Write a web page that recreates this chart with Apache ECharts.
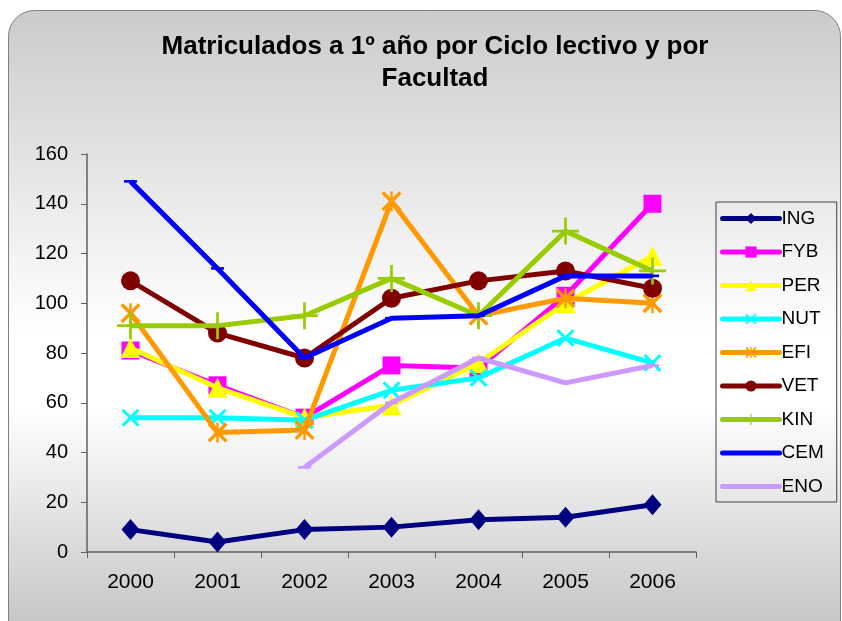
<!DOCTYPE html>
<html><head><meta charset="utf-8">
<script src="https://cdn.jsdelivr.net/npm/echarts@6/dist/echarts.min.js"></script>
<style>html,body{margin:0;padding:0;background:#fff;}#c{width:842px;height:621px;}</style>
</head><body><div id="c"></div>
<script>
const years = ['2000','2001','2002','2003','2004','2005','2006'];
const ING = [9, 4, 9, 10, 13, 14, 19];
const FYB = [81, 67, 54, 75, 74, 103, 140];
const PER = [82, 66, 54, 59, 76, 100, 119];
const NUT = [54, 54, 53, 65, 70, 86, 76];
const EFI = [96, 48, 49, 141, 95, 102, 100];
const VET = [109, 88, 78, 102, 109, 113, 106];
const KIN = [91, 91, 95, 110, 95, 129, 113];
const CEM = [149, 114, 78, 94, 95, 111, 111];
const ENO = [null, null, 34, 60, 78, 68, 75];
const yTicks = {min: 0, max: 160, interval: 20};

const P_X = 'path://M0,1.2 L1.2,0 L5,3.8 L8.8,0 L10,1.2 L6.2,5 L10,8.8 L8.8,10 L5,6.2 L1.2,10 L0,8.8 L3.8,5 Z';
const P_AST = 'path://M0,1.2 L1.2,0 L5,3.8 L8.8,0 L10,1.2 L6.2,5 L10,8.8 L8.8,10 L5,6.2 L1.2,10 L0,8.8 L3.8,5 Z M4.4,0 L5.6,0 L5.6,10 L4.4,10 Z';
const P_PLUS = 'path://M4.5,0 H5.5 V4.5 H10 V5.5 H5.5 V10 H4.5 V5.5 H0 V4.5 H4.5 Z';
const P_DASH = 'path://M0,0 H10 V2 H0 Z';
const FONT = 'Liberation Sans, Arial, sans-serif';

function s(name, data, color, symbol, size, z, keep) {
  return {name, type:'line', data, z: z,
    lineStyle:{color, width:5}, itemStyle:{color, borderWidth:0},
    symbol, symbolSize:size, symbolKeepAspect: !!keep, showSymbol:true, connectNulls:false,
    emphasis:{disabled:true}, animation:false};
}
const chart = echarts.init(document.getElementById('c'));
chart.setOption({
  animation:false,
  textStyle:{fontFamily:FONT},
  graphic:[{type:'rect', z:-10, silent:true,
    shape:{x:8.5, y:10.5, width:832, height:640, r:26},
    style:{stroke:'#808080', lineWidth:1,
      fill:{type:'linear', x:0, y:0, x2:0, y2:1, colorStops:[
        {offset:0, color:'#cbcbcb'}, {offset:0.5, color:'#ffffff'}, {offset:0.62, color:'#ffffff'}, {offset:0.97, color:'#c4c4c4'}, {offset:1, color:'#c0c0c0'}]}}}],
  title:{text:'Matriculados a 1º año por Ciclo lectivo y por\nFacultad', left:430, textAlign:'center', top:26,
    textStyle:{fontSize:26, fontWeight:'bold', color:'#000', lineHeight:32, fontFamily:FONT}},
  grid:{left:87, right:146, top:154, bottom:69, containLabel:false},
  legend:{orient:'vertical', left:716, top:202,
    padding:[7,13,6,4], itemGap:14.5, itemWidth:57, itemHeight:14,
    borderColor:'#404040', borderWidth:1, backgroundColor:'transparent',
    lineStyle:{width:5, cap:'round'},
    textStyle:{fontSize:19, color:'#000', padding:[0,0,0,-3]},
    data:['ING','FYB','PER','NUT','EFI','VET','KIN',
      {name:'CEM', itemStyle:{opacity:0}}, {name:'ENO', itemStyle:{opacity:0}}]},
  xAxis:{type:'category', data:years, boundaryGap:true,
    axisLine:{lineStyle:{color:'#606060', width:1.5}},
    axisTick:{show:true, length:6, lineStyle:{color:'#606060'}},
    axisLabel:{fontSize:21, color:'#000', margin:20}, splitLine:{show:false}},
  yAxis:{type:'value', min:yTicks.min, max:yTicks.max, interval:yTicks.interval,
    axisLine:{show:true, lineStyle:{color:'#606060', width:1.5}},
    axisTick:{show:true, length:6, lineStyle:{color:'#606060'}},
    axisLabel:{fontSize:20, color:'#000', margin:19}, splitLine:{show:false}},
  series:[
    s('ING', ING, '#000080', 'diamond', [18,21], 2),
    s('FYB', FYB, '#FF00FF', 'rect', 18, 3),
    s('PER', PER, '#FFFF00', 'triangle', 20, 4),
    s('NUT', NUT, '#00FFFF', P_X, 18, 5),
    s('EFI', EFI, '#FF9900', P_AST, 20, 6),
    s('VET', VET, '#800000', 'circle', 19, 7),
    s('KIN', KIN, '#99CC00', P_PLUS, 27, 8),
    s('CEM', CEM, '#0000FF', P_DASH, 13, 9, true),
    s('ENO', ENO, '#CC99FF', P_DASH, 13, 10, true)
  ]
});
</script></body></html>
